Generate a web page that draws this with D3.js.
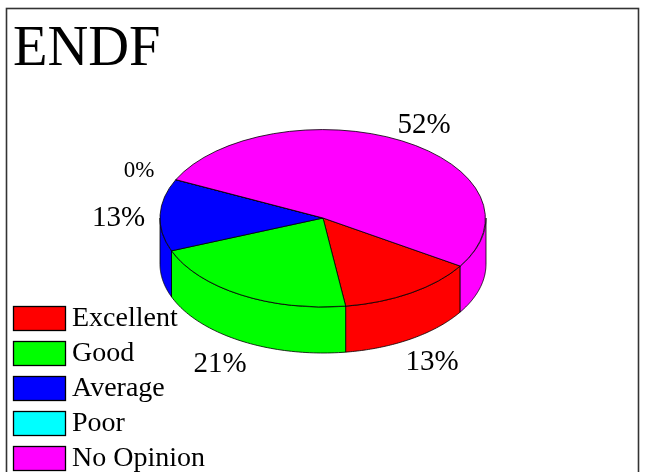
<!DOCTYPE html>
<html>
<head>
<meta charset="utf-8">
<script src="https://cdn.jsdelivr.net/npm/d3@7"></script>
<style>
html,body{margin:0;padding:0;background:#fff;overflow:hidden}
svg{display:block;filter:blur(0.45px)}
text{font-family:"Liberation Serif","Times New Roman",serif;fill:#000}
</style>
</head>
<body>
<svg id="chart" width="646" height="472"></svg>
<script>
const titleText = "ENDF";
const categories = ["Excellent", "Good", "Average", "Poor", "No Opinion"];
const values = [13.7, 21.2, 13.1, 0, 52];
const labels = ["13%", "21%", "13%", "0%", "52%"];
const colors = ["#ff0000", "#00ff00", "#0000ff", "#00ffff", "#ff00ff"];

const W = 646, H = 472;
const cx = 323, cy = 218, rx = 163, ry = 89, depth = 46;
const startDeg = 122.7;

const svg = d3.select("#chart");
const rad = d => d * Math.PI / 180;

svg.append("rect").attr("x", 6.5).attr("y", 8.5).attr("width", 632).attr("height", H + 20)
  .attr("fill", "#fff").attr("stroke", "#333").attr("stroke-width", 1.6);

svg.append("text").attr("x", 13).attr("y", 65).attr("font-size", 56.5).text(titleText);

const pie = d3.pie().sort(null)
  .startAngle(rad(startDeg)).endAngle(rad(startDeg + 360));
const arcs = pie(values);

const px = a => cx + rx * Math.sin(a);
const py = a => cy - ry * Math.cos(a);
const line = d3.line();

// Side walls: parts of each slice facing the viewer (90deg..270deg, also seen +360)
function wallSpans(a0, a1) {
  const spans = [];
  [0, 2 * Math.PI].forEach(off => {
    const s = Math.max(a0, Math.PI / 2 + off), e = Math.min(a1, 3 * Math.PI / 2 + off);
    if (e > s) spans.push([s, e]);
  });
  return spans;
}
const walls = svg.append("g");
arcs.forEach((d, i) => {
  wallSpans(d.startAngle, d.endAngle).forEach(([s, e]) => {
    const ts = d3.range(0, 61).map(k => s + (e - s) * k / 60);
    const top = ts.map(t => [px(t), py(t)]);
    const bot = ts.slice().reverse().map(t => [px(t), py(t) + depth]);
    walls.append("path").attr("d", line(top.concat(bot)) + "Z")
      .attr("fill", colors[i]).attr("stroke", "#000").attr("stroke-width", 0.8)
      .attr("stroke-linejoin", "round");
  });
});

// Top face: d3.arc on a unit circle, squashed into an ellipse
const arcGen = d3.arc().innerRadius(0).outerRadius(1);
svg.append("g").attr("transform", `translate(${cx},${cy}) scale(${rx},${ry})`)
  .selectAll("path").data(arcs).join("path")
  .attr("d", arcGen)
  .attr("fill", (d, i) => colors[i])
  .attr("stroke", "#000").attr("stroke-width", 0.8)
  .attr("vector-effect", "non-scaling-stroke")
  .attr("stroke-linejoin", "round");

// Percent labels: placed around the pie from each slice's mid-angle
const labelReach = [1.2, 1.25, 1.27, 1.27, 1.27];
const labelDrop = [depth, depth, 0, 0, 0];
const labelNudgeX = [3.5, -0.5, 2.5, 3, 0.5];
const labelNudgeY = [16, 12, 12, 8, 14];
const labelSize = [29, 29, 29, 23, 29];
svg.append("g").selectAll("text").data(arcs).join("text")
  .attr("text-anchor", "middle")
  .attr("font-size", (d, i) => labelSize[i])
  .attr("x", (d, i) => cx + labelReach[i] * rx * Math.sin((d.startAngle + d.endAngle) / 2) + labelNudgeX[i])
  .attr("y", (d, i) => cy - labelReach[i] * ry * Math.cos((d.startAngle + d.endAngle) / 2) + labelDrop[i] + labelNudgeY[i])
  .text((d, i) => labels[i]);

// Legend
const legendY = d3.scalePoint().domain(categories).range([306, 446]);
const legend = svg.append("g").selectAll("g").data(categories).join("g")
  .attr("transform", d => `translate(13,${legendY(d)})`);
legend.append("rect").attr("x", 0.5).attr("y", 0.5).attr("width", 52).attr("height", 24)
  .attr("fill", (d, i) => colors[i]).attr("stroke", "#000").attr("stroke-width", 1.3);
legend.append("text").attr("x", 59).attr("y", 20).attr("font-size", 28).text(d => d);
</script>
</body>
</html>
